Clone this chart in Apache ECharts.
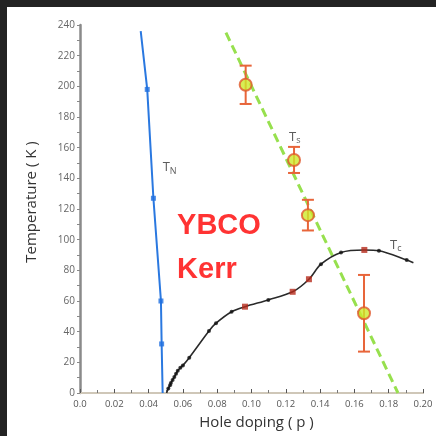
<!DOCTYPE html>
<html>
<head>
<meta charset="utf-8">
<script src="https://cdn.jsdelivr.net/npm/echarts@6/dist/echarts.min.js"></script>
<style>
  html, body { margin: 0; padding: 0; background: #ffffff; }
  #chart { width: 436px; height: 436px; }
</style>
</head>
<body>
<div id="chart"></div>
<script>
// Phase diagram of YBCO: Néel temperature, Kerr-effect onset and superconducting dome
const xTicks = [0, 0.02, 0.04, 0.06, 0.08, 0.10, 0.12, 0.14, 0.16, 0.18, 0.20];
const yTicks = [0, 20, 40, 60, 80, 100, 120, 140, 160, 180, 200, 220, 240];

// Néel temperature T_N (blue): measured points and the line through them
const tnPoints = [[0.0392, 198], [0.0428, 127], [0.0472, 60], [0.0476, 32]];
const tnLine = [[0.0354, 236], [0.0392, 198], [0.0428, 127], [0.0472, 60], [0.0476, 32], [0.0482, 0]];

// Kerr onset T_s with error bars
const tsDoping = [0.0966, 0.1248, 0.1329, 0.1656];
const tsTemp = [201, 152, 116, 52];
const tsErr = [12.5, 8.5, 10, 25];
// Guide line for T_s (green dashed)
const tsGuide = [[0.0851, 235], [0.1854, 0]];

// Superconducting T_c: black dots, red squares
const tcDots = [
  [0.0515, 3], [0.0525, 5], [0.053, 6.5], [0.054, 8.5], [0.055, 10.5],
  [0.056, 12.5], [0.057, 14.5], [0.0585, 16.5], [0.060, 18],
  [0.0637, 23], [0.0752, 40.4], [0.0793, 45.5], [0.0884, 53],
  [0.1098, 60.7], [0.1405, 84], [0.1522, 91.7], [0.1743, 92.8], [0.1905, 86.8]
];
const tcSquares = [[0.0962, 56.3], [0.124, 66], [0.1335, 74.2], [0.1658, 93.3]];
const tcCurveEnd = [[0.0505, 0], [0.1944, 85]];

const tcCurve = tcDots.concat(tcSquares, tcCurveEnd).sort((a, b) => a[0] - b[0]);
const tsData = tsDoping.map((p, i) => [p, tsTemp[i], tsTemp[i] - tsErr[i], tsTemp[i] + tsErr[i]]);

const chart = echarts.init(document.getElementById('chart'), null, { renderer: 'canvas' });

const font = '"Open Sans", "DejaVu Sans", sans-serif';

const option = {
  backgroundColor: '#ffffff',
  animation: false,
  graphic: [
    { type: 'rect', left: 0, top: 0, shape: { width: 436, height: 7 }, style: { fill: '#232323' }, z: 100 },
    { type: 'rect', left: 0, top: 0, shape: { width: 7, height: 436 }, style: { fill: '#232323' }, z: 100 }
  ],
  grid: { left: 80, right: 13, top: 25, bottom: 43, containLabel: false },
  xAxis: [
    {
      type: 'value', min: 0, max: 0.2, interval: 0.02,
      name: 'Hole doping ( p )', nameLocation: 'middle', nameGap: 22,
      nameTextStyle: { fontFamily: font, fontSize: 15, color: '#333', padding: [0, 0, 0, 10] },
      axisLine: { show: true, lineStyle: { color: '#333', width: 1.5 } },
      axisTick: { show: true, inside: true, length: 4, lineStyle: { color: '#555' } },
      minorTick: { show: true, splitNumber: 2, length: 3, lineStyle: { color: '#777' } },
      splitLine: { show: false },
      axisLabel: {
        fontFamily: font, fontSize: 9.5, color: '#555', margin: 6,
        formatter: v => (v === 0 ? '0.0' : v.toFixed(2))
      }
    },
    {
      type: 'value', position: 'top', min: 0, max: 0.2,
      axisLine: { show: true, lineStyle: { color: '#cfc7b8', width: 2 } },
      axisTick: { show: false }, axisLabel: { show: false }, splitLine: { show: false }
    }
  ],
  yAxis: [
    {
      type: 'value', min: 0, max: 240, interval: 20,
      name: 'Temperature ( K )', nameLocation: 'middle', nameGap: 41,
      nameTextStyle: { fontFamily: font, fontSize: 15, color: '#333', padding: [0, 0, 0, 14] },
      axisLine: { show: true, lineStyle: { color: '#666', width: 1 } },
      axisTick: { show: false },
      splitLine: { show: false },
      axisLabel: { fontFamily: font, fontSize: 10, color: '#666', margin: 5 }
    },
    {
      type: 'value', position: 'right', min: 0, max: 240, interval: 10,
      axisLine: { show: true, lineStyle: { color: '#8a8a8a', width: 2.5 } },
      axisTick: { show: true, inside: true, length: 3, lineStyle: { color: '#888' } },
      axisLabel: { show: false }, splitLine: { show: false }
    }
  ],
  series: [
    // T_s guide line
    {
      type: 'line', data: tsGuide, symbol: 'none', z: 2,
      lineStyle: { color: '#97e04e', width: 3, type: [9, 5] }
    },
    // T_N line and points
    {
      type: 'line', data: tnLine, symbol: 'none', z: 3,
      lineStyle: { color: '#2a78e0', width: 2 }
    },
    {
      type: 'scatter', data: tnPoints, symbol: 'rect', symbolSize: 5, z: 4,
      itemStyle: { color: '#1f6fe0' }
    },
    // T_c curve
    {
      type: 'line', data: tcCurve, symbol: 'none', smooth: 0.3, z: 3,
      lineStyle: { color: '#2a2a2a', width: 1.6 }
    },
    {
      type: 'scatter', data: tcDots, symbol: 'circle', symbolSize: 4, z: 4,
      itemStyle: { color: '#111' }
    },
    {
      type: 'scatter', data: tcSquares, symbol: 'rect', symbolSize: 6, z: 4,
      itemStyle: { color: '#b52a1c' }
    },
    // T_s error bars
    {
      type: 'custom', z: 5,
      data: tsData,
      renderItem: (params, api) => {
        const top = api.coord([api.value(0), api.value(3)]);
        const bot = api.coord([api.value(0), api.value(2)]);
        const cap = 6;
        const st = { stroke: '#e8653a', lineWidth: 2 };
        return {
          type: 'group',
          children: [
            { type: 'line', shape: { x1: top[0], y1: top[1], x2: bot[0], y2: bot[1] }, style: st },
            { type: 'line', shape: { x1: top[0] - cap, y1: top[1], x2: top[0] + cap, y2: top[1] }, style: st },
            { type: 'line', shape: { x1: bot[0] - cap, y1: bot[1], x2: bot[0] + cap, y2: bot[1] }, style: st }
          ]
        };
      }
    },
    // T_s points
    {
      type: 'scatter', data: tsData.map(d => [d[0], d[1]]), symbol: 'circle', symbolSize: 12, z: 6,
      itemStyle: { color: '#cdea2a', borderColor: '#e0582c', borderWidth: 2 }
    },
    // Curve labels
    {
      type: 'scatter', symbolSize: 0, z: 7, silent: true,
      data: [
        { value: [0.0482, 147], name: 'N' },
        { value: [0.1219, 167], name: 's' },
        { value: [0.1808, 96.5], name: 'c' }
      ],
      label: {
        show: true, position: 'right', distance: 0,
        formatter: p => '{t|T}{s|' + p.name + '}',
        rich: {
          t: { fontFamily: font, fontSize: 13, color: '#333' },
          s: { fontFamily: font, fontSize: 9, color: '#333', verticalAlign: 'bottom', padding: [7, 0, 0, 0] }
        }
      }
    },
    // Sample / technique annotation
    {
      type: 'scatter', symbolSize: 0, z: 7, silent: true,
      data: [
        { value: [0.0566, 109], name: 'YBCO' },
        { value: [0.0566, 80], name: 'Kerr' }
      ],
      label: {
        show: true, position: 'right', distance: 0,
        formatter: p => p.name,
        fontFamily: '"Liberation Sans", Arial, sans-serif', fontWeight: 'bold', fontSize: 29, color: '#ff0000'
      }
    }
  ]
};

chart.setOption(option);
</script>
</body>
</html>
